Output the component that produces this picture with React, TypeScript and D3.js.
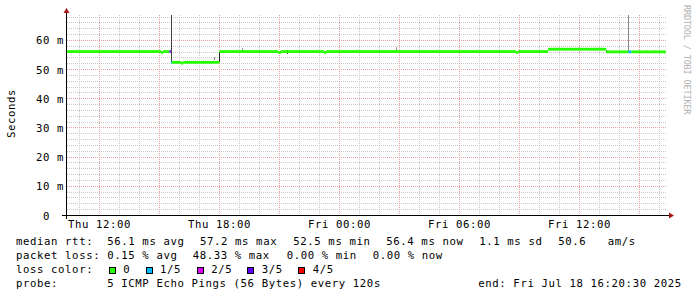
import React from "react";
import * as d3 from "d3";

const W = 697;
const H = 297;
const parse = d3.timeParse("%Y-%m-%d %H:%M:%S");

const START = "2025-07-17 10:20:30";
const END = "2025-07-18 16:20:30";
const Y_MAX = 68.9;
const yTicks = [0, 10, 20, 30, 40, 50, 60];

// median rtt (ms) as steps: value holds from time[i] to time[i+1]
const medianTimes = [
  "2025-07-17 10:20:30", "2025-07-17 15:05:00", "2025-07-17 15:11:00", "2025-07-17 15:30:00",
  "2025-07-17 15:34:00", "2025-07-17 15:37:00", "2025-07-17 16:05:00", "2025-07-17 16:11:00",
  "2025-07-17 18:00:00", "2025-07-17 20:55:00", "2025-07-17 21:05:00", "2025-07-17 23:14:00",
  "2025-07-17 23:20:00", "2025-07-18 08:50:00", "2025-07-18 08:56:00", "2025-07-18 10:26:00",
  "2025-07-18 13:20:00", "2025-07-18 14:27:00", "2025-07-18 14:36:00",
];
const medianValues = [
  56.2, 55.9, 56.2, 56.2,
  52.5, 52.5, 52.2, 52.5,
  56.2, 55.9, 56.2, 55.9,
  56.2, 55.9, 56.2, 57.0,
  56.1, 56.1, 56.1,
];
// number of lost pings (out of 5) per step
const medianLoss = [
  0, 0, 0, 3,
  1, 0, 0, 0,
  0, 0, 0, 0,
  0, 0, 0, 0,
  0, 1, 0,
];

// smoke (spread of individual pings)
const smokeTimes = [
  "2025-07-17 14:38:00", "2025-07-17 15:11:00", "2025-07-17 15:35:00", "2025-07-17 15:50:00",
  "2025-07-17 17:44:00", "2025-07-17 18:01:00", "2025-07-17 19:08:00", "2025-07-17 20:20:00",
  "2025-07-17 20:47:00", "2025-07-17 21:23:00", "2025-07-17 23:29:00", "2025-07-18 00:53:00",
  "2025-07-18 02:50:00", "2025-07-18 08:53:00", "2025-07-18 10:53:00", "2025-07-18 13:20:00",
  "2025-07-18 14:05:00", "2025-07-18 14:28:00", "2025-07-18 14:59:00", "2025-07-18 15:23:00",
  "2025-07-18 15:44:00",
];
const smokeLo = [56.2, 55.7, 52.5, 52.0, 53.3, 52.5, 56.2, 55.9, 55.8, 55.4, 55.9, 56.2, 56.2, 55.8, 57.0, 56.1, 55.8, 56.1, 56.1, 56.1, 56.1];
const smokeHi = [56.9, 56.5, 68.6, 52.9, 54.5, 56.2, 57.3, 56.3, 56.4, 56.6, 56.3, 56.8, 57.9, 56.2, 57.5, 56.9, 56.1, 68.6, 56.7, 56.7, 56.7];
const smokeShade = [
  "#b0b0b0", "#b0b0b0", "#404040", "#b0b0b0", "#909090", "#202020", "#a0a0a0", "#b0b0b0",
  "#b0b0b0", "#303030", "#b0b0b0", "#b0b0b0", "#a0a0a0", "#b0b0b0", "#b0b0b0", "#303030",
  "#b0b0b0", "#8a8a8a", "#b0b0b0", "#b0b0b0", "#b0b0b0",
];

const lossLabels = ["0", "1/5", "2/5", "3/5", "4/5"];
const lossColors = ["#26ff00", "#00b8ff", "#dd00ff", "#5e00ff", "#ff0000"];

const legendLine1 = ["median rtt:", "56.1 ms avg", "57.2 ms max", "52.5 ms min", "56.4 ms now", "1.1 ms sd", "50.6", "am/s"];
const legendLine2 = ["packet loss:", "0.15 % avg", "48.33 % max", "0.00 % min", "0.00 % now"];
const legendLine3Title = "loss color:";
const legendLine4 = ["probe:", "5 ICMP Echo Pings (56 Bytes) every 120s", "end: Fri Jul 18 16:20:30 2025"];

const yTitle = "Seconds";
const watermark = "RRDTOOL / TOBI OETIKER";

// layout
const line1X = [16, 107.3, 200, 293.3, 386.3, 479.3, 558.3, 607.7];
const line2X = [16, 107.3, 192.7, 286.7, 372.7];
const line4X = [16, 107.3, 478.3];
const boxX = [109, 146, 197.5, 247.5, 298.5];
const boxLabelX = [123.3, 160, 211.3, 261.7, 312.7];

const FONT = "'DejaVu Sans Mono', monospace";
const FS = 10.67;
const LS = 0.6;

export default function App() {
  const t0 = parse(START)!;
  const t1 = parse(END)!;
  const x = d3.scaleTime().domain([t0, t1]).range([66.3, 666.3]);
  const y = d3.scaleLinear().domain([0, Y_MAX]).range([215.5, 14.5]);
  const px = (v: number) => Math.floor(v) + 0.5;

  const hours = d3.timeHour.range(t0, t1);
  const minorV = hours.filter((h) => h.getHours() % 3 !== 0);
  const majorV = hours.filter((h) => h.getHours() % 3 === 0);
  const labelV = hours.filter((h) => h.getHours() % 6 === 0);
  const fmt = d3.timeFormat("%a %H:%M");

  const minorH = d3.range(2, Y_MAX, 2).filter((v) => v % 10 !== 0);
  const majorH = yTicks.filter((v) => v > 0);

  const plotLeft = px(x(t0));
  const plotRight = x(t1);
  const top = 14.5;
  const bottom = y(0);

  const medT = medianTimes.map((s) => parse(s)!);
  const segs = medT.map((t, i) => ({
    x0: x(t),
    x1: i + 1 < medT.length ? x(medT[i + 1]) : x(t1) - 0.5,
    v: medianValues[i],
    c: lossColors[medianLoss[i]],
  }));

  const smoke = smokeTimes.map((s, i) => ({
    x: Math.floor(x(parse(s)!)),
    lo: smokeLo[i],
    hi: smokeHi[i],
    c: smokeShade[i],
  }));

  const textProps = { fontFamily: FONT, fontSize: FS, letterSpacing: LS, fill: "#000" } as const;

  return (
    <svg
      width={W}
      height={H}
      viewBox={`0 0 ${W} ${H}`}
      style={{ position: "absolute", left: 0, top: 0, background: "#fff" }}
    >
      <rect x={0} y={0} width={W} height={H} fill="#fff" />
      {/* minor grid */}
      <g stroke="#c8c8c8" strokeWidth={1} strokeDasharray="1,1" shapeRendering="crispEdges">
        {minorH.map((v) => (
          <line key={"mh" + v} x1={plotLeft} x2={plotRight} y1={px(y(v))} y2={px(y(v))} />
        ))}
        {minorV.map((h) => (
          <line key={"mv" + +h} x1={px(x(h))} x2={px(x(h))} y1={top} y2={bottom} />
        ))}
      </g>
      {/* major grid */}
      <g stroke="#e6a0a0" strokeWidth={1} strokeDasharray="1,1" shapeRendering="crispEdges">
        {majorH.map((v) => (
          <line key={"Mh" + v} x1={plotLeft} x2={plotRight} y1={px(y(v))} y2={px(y(v))} />
        ))}
        {majorV.map((h) => (
          <line key={"Mv" + +h} x1={px(x(h))} x2={px(x(h))} y1={top} y2={bottom} />
        ))}
      </g>

      {/* smoke */}
      <g shapeRendering="crispEdges">
        {smoke.map((s, i) => (
          <rect key={"s" + i} x={s.x} width={1} y={y(s.hi)} height={Math.max(1, y(s.lo) - y(s.hi))} fill={s.c} />
        ))}
      </g>

      {/* median */}
      <g>
        {segs.map((s, i) => (
          <rect key={"m" + i} x={s.x0} width={Math.max(0.5, s.x1 - s.x0)} y={y(s.v) - 1.4} height={2.8} fill={s.c} />
        ))}
      </g>

      {/* axes */}
      <g stroke="#000" strokeWidth={1} shapeRendering="crispEdges">
        <line x1={62} x2={669} y1={215.5} y2={215.5} />
        <line x1={66.5} x2={66.5} y1={219} y2={13} />
      </g>
      <polygon points="669,212.5 674,215.5 669,218.5" fill="#a81818" />
      <polygon points="63.5,13 66.5,8 69.5,13" fill="#a81818" />

      {/* y labels */}
      {yTicks.map((v) => (
        <text key={"yl" + v} {...textProps} x={64} y={y(v) + 4} textAnchor="end" xmlSpace="preserve" style={{ whiteSpace: "pre" }}>
          {v === 0 ? "0  " : `${v} m`}
        </text>
      ))}
      <text {...textProps} transform="translate(15,113.5) rotate(-90)" textAnchor="middle">
        {yTitle}
      </text>

      {/* x labels */}
      {labelV.map((h) => (
        <text key={"xl" + +h} {...textProps} x={x(h)} y={228} textAnchor="middle">
          {fmt(h)}
        </text>
      ))}

      {/* watermark */}
      <text
        fontFamily={FONT}
        fontSize={8.5}
        letterSpacing={-0.15}
        fill="#b0b0b0"
        transform="translate(684,5) rotate(90)"
      >
        {watermark}
      </text>

      {/* legend */}
      {legendLine1.map((s, i) => (
        <text key={"l1" + i} {...textProps} x={line1X[i]} y={245}>{s}</text>
      ))}
      {legendLine2.map((s, i) => (
        <text key={"l2" + i} {...textProps} x={line2X[i]} y={259}>{s}</text>
      ))}
      <text {...textProps} x={16} y={273}>{legendLine3Title}</text>
      {lossLabels.map((s, i) => (
        <g key={"lc" + i}>
          <rect x={boxX[i]} y={267.5} width={6} height={6} fill={lossColors[i]} stroke="#000" strokeWidth={1} shapeRendering="crispEdges" />
          <text {...textProps} x={boxLabelX[i]} y={273}>{s}</text>
        </g>
      ))}
      {legendLine4.map((s, i) => (
        <text key={"l4" + i} {...textProps} x={line4X[i]} y={287}>{s}</text>
      ))}
    </svg>
  );
}
